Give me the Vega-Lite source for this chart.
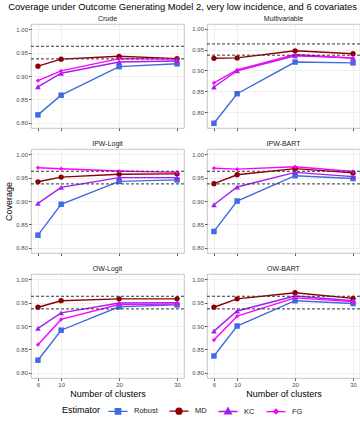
{
  "$schema": "https://vega.github.io/schema/vega-lite/v6.json",
  "padding": {"left": 4, "top": 2, "right": 3, "bottom": 2},
  "title": {"text": "Coverage under Outcome Generating Model 2, very low incidence, and 6 covariates", "fontSize": 9.4, "fontWeight": "normal", "color": "black", "anchor": "middle", "offset": 2},
  "datasets": {
    "cov": [
      {"panel":"Crude","estimator":"Robust","clusters":6,"coverage":0.817},{"panel":"Crude","estimator":"Robust","clusters":10,"coverage":0.859},{"panel":"Crude","estimator":"Robust","clusters":20,"coverage":0.920},{"panel":"Crude","estimator":"Robust","clusters":30,"coverage":0.926},
      {"panel":"Crude","estimator":"MD","clusters":6,"coverage":0.921},{"panel":"Crude","estimator":"MD","clusters":10,"coverage":0.936},{"panel":"Crude","estimator":"MD","clusters":20,"coverage":0.942},{"panel":"Crude","estimator":"MD","clusters":30,"coverage":0.937},
      {"panel":"Crude","estimator":"KC","clusters":6,"coverage":0.877},{"panel":"Crude","estimator":"KC","clusters":10,"coverage":0.906},{"panel":"Crude","estimator":"KC","clusters":20,"coverage":0.930},{"panel":"Crude","estimator":"KC","clusters":30,"coverage":0.932},
      {"panel":"Crude","estimator":"FG","clusters":6,"coverage":0.890},{"panel":"Crude","estimator":"FG","clusters":10,"coverage":0.911},{"panel":"Crude","estimator":"FG","clusters":20,"coverage":0.937},{"panel":"Crude","estimator":"FG","clusters":30,"coverage":0.936},
      {"panel":"Multivariable","estimator":"Robust","clusters":6,"coverage":0.773},{"panel":"Multivariable","estimator":"Robust","clusters":10,"coverage":0.844},{"panel":"Multivariable","estimator":"Robust","clusters":20,"coverage":0.920},{"panel":"Multivariable","estimator":"Robust","clusters":30,"coverage":0.918},
      {"panel":"Multivariable","estimator":"MD","clusters":6,"coverage":0.929},{"panel":"Multivariable","estimator":"MD","clusters":10,"coverage":0.930},{"panel":"Multivariable","estimator":"MD","clusters":20,"coverage":0.947},{"panel":"Multivariable","estimator":"MD","clusters":30,"coverage":0.940},
      {"panel":"Multivariable","estimator":"KC","clusters":6,"coverage":0.860},{"panel":"Multivariable","estimator":"KC","clusters":10,"coverage":0.899},{"panel":"Multivariable","estimator":"KC","clusters":20,"coverage":0.935},{"panel":"Multivariable","estimator":"KC","clusters":30,"coverage":0.930},
      {"panel":"Multivariable","estimator":"FG","clusters":6,"coverage":0.870},{"panel":"Multivariable","estimator":"FG","clusters":10,"coverage":0.901},{"panel":"Multivariable","estimator":"FG","clusters":20,"coverage":0.938},{"panel":"Multivariable","estimator":"FG","clusters":30,"coverage":0.929},
      {"panel":"IPW-Logit","estimator":"Robust","clusters":6,"coverage":0.827},{"panel":"IPW-Logit","estimator":"Robust","clusters":10,"coverage":0.893},{"panel":"IPW-Logit","estimator":"Robust","clusters":20,"coverage":0.942},{"panel":"IPW-Logit","estimator":"Robust","clusters":30,"coverage":0.945},
      {"panel":"IPW-Logit","estimator":"MD","clusters":6,"coverage":0.941},{"panel":"IPW-Logit","estimator":"MD","clusters":10,"coverage":0.951},{"panel":"IPW-Logit","estimator":"MD","clusters":20,"coverage":0.957},{"panel":"IPW-Logit","estimator":"MD","clusters":30,"coverage":0.958},
      {"panel":"IPW-Logit","estimator":"KC","clusters":6,"coverage":0.895},{"panel":"IPW-Logit","estimator":"KC","clusters":10,"coverage":0.929},{"panel":"IPW-Logit","estimator":"KC","clusters":20,"coverage":0.950},{"panel":"IPW-Logit","estimator":"KC","clusters":30,"coverage":0.950},
      {"panel":"IPW-Logit","estimator":"FG","clusters":6,"coverage":0.971},{"panel":"IPW-Logit","estimator":"FG","clusters":10,"coverage":0.969},{"panel":"IPW-Logit","estimator":"FG","clusters":20,"coverage":0.964},{"panel":"IPW-Logit","estimator":"FG","clusters":30,"coverage":0.961},
      {"panel":"IPW-BART","estimator":"Robust","clusters":6,"coverage":0.835},{"panel":"IPW-BART","estimator":"Robust","clusters":10,"coverage":0.900},{"panel":"IPW-BART","estimator":"Robust","clusters":20,"coverage":0.954},{"panel":"IPW-BART","estimator":"Robust","clusters":30,"coverage":0.948},
      {"panel":"IPW-BART","estimator":"MD","clusters":6,"coverage":0.937},{"panel":"IPW-BART","estimator":"MD","clusters":10,"coverage":0.956},{"panel":"IPW-BART","estimator":"MD","clusters":20,"coverage":0.969},{"panel":"IPW-BART","estimator":"MD","clusters":30,"coverage":0.960},
      {"panel":"IPW-BART","estimator":"KC","clusters":6,"coverage":0.892},{"panel":"IPW-BART","estimator":"KC","clusters":10,"coverage":0.930},{"panel":"IPW-BART","estimator":"KC","clusters":20,"coverage":0.961},{"panel":"IPW-BART","estimator":"KC","clusters":30,"coverage":0.952},
      {"panel":"IPW-BART","estimator":"FG","clusters":6,"coverage":0.970},{"panel":"IPW-BART","estimator":"FG","clusters":10,"coverage":0.968},{"panel":"IPW-BART","estimator":"FG","clusters":20,"coverage":0.973},{"panel":"IPW-BART","estimator":"FG","clusters":30,"coverage":0.963},
      {"panel":"OW-Logit","estimator":"Robust","clusters":6,"coverage":0.827},{"panel":"OW-Logit","estimator":"Robust","clusters":10,"coverage":0.891},{"panel":"OW-Logit","estimator":"Robust","clusters":20,"coverage":0.941},{"panel":"OW-Logit","estimator":"Robust","clusters":30,"coverage":0.945},
      {"panel":"OW-Logit","estimator":"MD","clusters":6,"coverage":0.940},{"panel":"OW-Logit","estimator":"MD","clusters":10,"coverage":0.954},{"panel":"OW-Logit","estimator":"MD","clusters":20,"coverage":0.958},{"panel":"OW-Logit","estimator":"MD","clusters":30,"coverage":0.958},
      {"panel":"OW-Logit","estimator":"KC","clusters":6,"coverage":0.895},{"panel":"OW-Logit","estimator":"KC","clusters":10,"coverage":0.928},{"panel":"OW-Logit","estimator":"KC","clusters":20,"coverage":0.949},{"panel":"OW-Logit","estimator":"KC","clusters":30,"coverage":0.950},
      {"panel":"OW-Logit","estimator":"FG","clusters":6,"coverage":0.860},{"panel":"OW-Logit","estimator":"FG","clusters":10,"coverage":0.914},{"panel":"OW-Logit","estimator":"FG","clusters":20,"coverage":0.946},{"panel":"OW-Logit","estimator":"FG","clusters":30,"coverage":0.947},
      {"panel":"OW-BART","estimator":"Robust","clusters":6,"coverage":0.836},{"panel":"OW-BART","estimator":"Robust","clusters":10,"coverage":0.900},{"panel":"OW-BART","estimator":"Robust","clusters":20,"coverage":0.954},{"panel":"OW-BART","estimator":"Robust","clusters":30,"coverage":0.948},
      {"panel":"OW-BART","estimator":"MD","clusters":6,"coverage":0.940},{"panel":"OW-BART","estimator":"MD","clusters":10,"coverage":0.958},{"panel":"OW-BART","estimator":"MD","clusters":20,"coverage":0.971},{"panel":"OW-BART","estimator":"MD","clusters":30,"coverage":0.959},
      {"panel":"OW-BART","estimator":"KC","clusters":6,"coverage":0.889},{"panel":"OW-BART","estimator":"KC","clusters":10,"coverage":0.932},{"panel":"OW-BART","estimator":"KC","clusters":20,"coverage":0.964},{"panel":"OW-BART","estimator":"KC","clusters":30,"coverage":0.954},
      {"panel":"OW-BART","estimator":"FG","clusters":6,"coverage":0.870},{"panel":"OW-BART","estimator":"FG","clusters":10,"coverage":0.921},{"panel":"OW-BART","estimator":"FG","clusters":20,"coverage":0.960},{"panel":"OW-BART","estimator":"FG","clusters":30,"coverage":0.952}
    ]
  },
  "data": {"name": "cov"},
  "columns": 2,
  "spacing": {"row": 7, "column": 6},
  "concat": [
    {
      "title": "Crude", "width": 153, "height": 104,
      "transform": [{"filter": "datum.panel === 'Crude'"}],
      "layer": [
        {"mark": {"type": "line", "strokeWidth": 1.4},
         "encoding": {
           "x": {"field": "clusters", "type": "quantitative", "scale": {"domain": [4.8, 31.2], "nice": false, "zero": false}, "axis": {"values": [6, 10, 20, 30], "labels": false, "title": null}},
           "y": {"field": "coverage", "type": "quantitative", "scale": {"domain": [0.789, 1.011], "nice": false, "zero": false}, "axis": {"values": [0.8, 0.85, 0.9, 0.95, 1.0], "format": ".2f", "title": null}},
           "color": {"field": "estimator", "type": "nominal", "scale": {"domain": ["Robust", "MD", "KC", "FG"], "range": ["#4169E1", "#8B0000", "#A020F0", "#FF00FF"]},
             "legend": {"title": "Estimator", "encode": {"symbols": {"update": {
               "shape": {"signal": "datum.value === 'Robust' ? 'M-1.6,0H1.6M-0.45,-0.45H0.45V0.45H-0.45Z' : datum.value === 'MD' ? 'M-1.6,0H1.6M0.5,0A0.5,0.5,0,1,1,-0.5,0A0.5,0.5,0,1,1,0.5,0Z' : datum.value === 'KC' ? 'M-1.6,0H1.6M0,-0.6L0.55,0.4H-0.55Z' : 'M-1.6,0H1.6M0,-0.38L0.38,0L0,0.38L-0.38,0Z'"},
               "size": {"value": 144},
               "fill": {"scale": "color", "field": "value"},
               "stroke": {"scale": "color", "field": "value"},
               "strokeWidth": {"value": 1.3},
               "opacity": {"value": 1}}}}}}
         }},
        {"mark": {"type": "point", "filled": true, "opacity": 1,
           "shape": {"expr": "datum.estimator === 'Robust' ? 'square' : datum.estimator === 'MD' ? 'circle' : datum.estimator === 'KC' ? 'triangle-up' : 'diamond'"},
           "size": {"expr": "datum.estimator === 'Robust' ? 30 : datum.estimator === 'MD' ? 28 : datum.estimator === 'KC' ? 32 : 18"}},
         "encoding": {
           "x": {"field": "clusters", "type": "quantitative", "axis": {"orient": "bottom", "values": [8, 15, 25], "labels": false, "ticks": false, "title": null, "gridColor": "#f4f4f4", "gridWidth": 0.6}},
           "y": {"field": "coverage", "type": "quantitative", "axis": {"orient": "left", "values": [0.825, 0.875, 0.925, 0.975], "labels": false, "ticks": false, "title": null, "gridColor": "#f4f4f4", "gridWidth": 0.6}},
           "color": {"field": "estimator", "type": "nominal"}
         }},
        {"data": {"values": [{"bound": 0.9365}, {"bound": 0.9635}]},
         "mark": {"type": "rule", "strokeDash": [3, 2], "color": "#333333", "strokeWidth": 1},
         "encoding": {"y": {"field": "bound", "type": "quantitative", "axis": null}}}
      ],
      "resolve": {"axis": {"x": "independent", "y": "independent"}}
    },
    {
      "title": "Multivariable", "width": 153, "height": 104,
      "transform": [{"filter": "datum.panel === 'Multivariable'"}],
      "layer": [
        {"mark": {"type": "line", "strokeWidth": 1.4},
         "encoding": {
           "x": {"field": "clusters", "type": "quantitative", "scale": {"domain": [4.8, 31.2], "nice": false, "zero": false}, "axis": {"values": [6, 10, 20, 30], "labels": false, "title": null}},
           "y": {"field": "coverage", "type": "quantitative", "scale": {"domain": [0.7617, 1.0113], "nice": false, "zero": false}, "axis": {"values": [0.8, 0.85, 0.9, 0.95, 1.0], "format": ".2f", "title": null}},
           "color": {"field": "estimator", "type": "nominal"}
         }},
        {"mark": {"type": "point", "filled": true, "opacity": 1,
           "shape": {"expr": "datum.estimator === 'Robust' ? 'square' : datum.estimator === 'MD' ? 'circle' : datum.estimator === 'KC' ? 'triangle-up' : 'diamond'"},
           "size": {"expr": "datum.estimator === 'Robust' ? 30 : datum.estimator === 'MD' ? 28 : datum.estimator === 'KC' ? 32 : 18"}},
         "encoding": {
           "x": {"field": "clusters", "type": "quantitative", "axis": {"orient": "bottom", "values": [8, 15, 25], "labels": false, "ticks": false, "title": null, "gridColor": "#f4f4f4", "gridWidth": 0.6}},
           "y": {"field": "coverage", "type": "quantitative", "axis": {"orient": "left", "values": [0.775, 0.825, 0.875, 0.925, 0.975], "labels": false, "ticks": false, "title": null, "gridColor": "#f4f4f4", "gridWidth": 0.6}},
           "color": {"field": "estimator", "type": "nominal"}
         }},
        {"data": {"values": [{"bound": 0.9365}, {"bound": 0.9635}]},
         "mark": {"type": "rule", "strokeDash": [3, 2], "color": "#333333", "strokeWidth": 1},
         "encoding": {"y": {"field": "bound", "type": "quantitative", "axis": null}}}
      ],
      "resolve": {"axis": {"x": "independent", "y": "independent"}}
    },
    {
      "title": "IPW-Logit", "width": 153, "height": 104,
      "transform": [{"filter": "datum.panel === 'IPW-Logit'"}],
      "layer": [
        {"mark": {"type": "line", "strokeWidth": 1.4},
         "encoding": {
           "x": {"field": "clusters", "type": "quantitative", "scale": {"domain": [4.8, 31.2], "nice": false, "zero": false}, "axis": {"values": [6, 10, 20, 30], "labels": false, "title": null}},
           "y": {"field": "coverage", "type": "quantitative", "scale": {"domain": [0.789, 1.011], "nice": false, "zero": false}, "axis": {"values": [0.8, 0.85, 0.9, 0.95, 1.0], "format": ".2f", "title": "Coverage"}},
           "color": {"field": "estimator", "type": "nominal"}
         }},
        {"mark": {"type": "point", "filled": true, "opacity": 1,
           "shape": {"expr": "datum.estimator === 'Robust' ? 'square' : datum.estimator === 'MD' ? 'circle' : datum.estimator === 'KC' ? 'triangle-up' : 'diamond'"},
           "size": {"expr": "datum.estimator === 'Robust' ? 30 : datum.estimator === 'MD' ? 28 : datum.estimator === 'KC' ? 32 : 18"}},
         "encoding": {
           "x": {"field": "clusters", "type": "quantitative", "axis": {"orient": "bottom", "values": [8, 15, 25], "labels": false, "ticks": false, "title": null, "gridColor": "#f4f4f4", "gridWidth": 0.6}},
           "y": {"field": "coverage", "type": "quantitative", "axis": {"orient": "left", "values": [0.825, 0.875, 0.925, 0.975], "labels": false, "ticks": false, "title": null, "gridColor": "#f4f4f4", "gridWidth": 0.6}},
           "color": {"field": "estimator", "type": "nominal"}
         }},
        {"data": {"values": [{"bound": 0.9365}, {"bound": 0.9635}]},
         "mark": {"type": "rule", "strokeDash": [3, 2], "color": "#333333", "strokeWidth": 1},
         "encoding": {"y": {"field": "bound", "type": "quantitative", "axis": null}}}
      ],
      "resolve": {"axis": {"x": "independent", "y": "independent"}}
    },
    {
      "title": "IPW-BART", "width": 153, "height": 104,
      "transform": [{"filter": "datum.panel === 'IPW-BART'"}],
      "layer": [
        {"mark": {"type": "line", "strokeWidth": 1.4},
         "encoding": {
           "x": {"field": "clusters", "type": "quantitative", "scale": {"domain": [4.8, 31.2], "nice": false, "zero": false}, "axis": {"values": [6, 10, 20, 30], "labels": false, "title": null}},
           "y": {"field": "coverage", "type": "quantitative", "scale": {"domain": [0.789, 1.011], "nice": false, "zero": false}, "axis": {"values": [0.8, 0.85, 0.9, 0.95, 1.0], "format": ".2f", "title": null}},
           "color": {"field": "estimator", "type": "nominal"}
         }},
        {"mark": {"type": "point", "filled": true, "opacity": 1,
           "shape": {"expr": "datum.estimator === 'Robust' ? 'square' : datum.estimator === 'MD' ? 'circle' : datum.estimator === 'KC' ? 'triangle-up' : 'diamond'"},
           "size": {"expr": "datum.estimator === 'Robust' ? 30 : datum.estimator === 'MD' ? 28 : datum.estimator === 'KC' ? 32 : 18"}},
         "encoding": {
           "x": {"field": "clusters", "type": "quantitative", "axis": {"orient": "bottom", "values": [8, 15, 25], "labels": false, "ticks": false, "title": null, "gridColor": "#f4f4f4", "gridWidth": 0.6}},
           "y": {"field": "coverage", "type": "quantitative", "axis": {"orient": "left", "values": [0.825, 0.875, 0.925, 0.975], "labels": false, "ticks": false, "title": null, "gridColor": "#f4f4f4", "gridWidth": 0.6}},
           "color": {"field": "estimator", "type": "nominal"}
         }},
        {"data": {"values": [{"bound": 0.9365}, {"bound": 0.9635}]},
         "mark": {"type": "rule", "strokeDash": [3, 2], "color": "#333333", "strokeWidth": 1},
         "encoding": {"y": {"field": "bound", "type": "quantitative", "axis": null}}}
      ],
      "resolve": {"axis": {"x": "independent", "y": "independent"}}
    },
    {
      "title": "OW-Logit", "width": 153, "height": 104,
      "transform": [{"filter": "datum.panel === 'OW-Logit'"}],
      "layer": [
        {"mark": {"type": "line", "strokeWidth": 1.4},
         "encoding": {
           "x": {"field": "clusters", "type": "quantitative", "scale": {"domain": [4.8, 31.2], "nice": false, "zero": false}, "axis": {"values": [6, 10, 20, 30], "title": "Number of clusters"}},
           "y": {"field": "coverage", "type": "quantitative", "scale": {"domain": [0.789, 1.011], "nice": false, "zero": false}, "axis": {"values": [0.8, 0.85, 0.9, 0.95, 1.0], "format": ".2f", "title": null}},
           "color": {"field": "estimator", "type": "nominal"}
         }},
        {"mark": {"type": "point", "filled": true, "opacity": 1,
           "shape": {"expr": "datum.estimator === 'Robust' ? 'square' : datum.estimator === 'MD' ? 'circle' : datum.estimator === 'KC' ? 'triangle-up' : 'diamond'"},
           "size": {"expr": "datum.estimator === 'Robust' ? 30 : datum.estimator === 'MD' ? 28 : datum.estimator === 'KC' ? 32 : 18"}},
         "encoding": {
           "x": {"field": "clusters", "type": "quantitative", "axis": {"orient": "bottom", "values": [8, 15, 25], "labels": false, "ticks": false, "title": null, "gridColor": "#f4f4f4", "gridWidth": 0.6}},
           "y": {"field": "coverage", "type": "quantitative", "axis": {"orient": "left", "values": [0.825, 0.875, 0.925, 0.975], "labels": false, "ticks": false, "title": null, "gridColor": "#f4f4f4", "gridWidth": 0.6}},
           "color": {"field": "estimator", "type": "nominal"}
         }},
        {"data": {"values": [{"bound": 0.9365}, {"bound": 0.9635}]},
         "mark": {"type": "rule", "strokeDash": [3, 2], "color": "#333333", "strokeWidth": 1},
         "encoding": {"y": {"field": "bound", "type": "quantitative", "axis": null}}}
      ],
      "resolve": {"axis": {"x": "independent", "y": "independent"}}
    },
    {
      "title": "OW-BART", "width": 153, "height": 104,
      "transform": [{"filter": "datum.panel === 'OW-BART'"}],
      "layer": [
        {"mark": {"type": "line", "strokeWidth": 1.4},
         "encoding": {
           "x": {"field": "clusters", "type": "quantitative", "scale": {"domain": [4.8, 31.2], "nice": false, "zero": false}, "axis": {"values": [6, 10, 20, 30], "title": "Number of clusters"}},
           "y": {"field": "coverage", "type": "quantitative", "scale": {"domain": [0.789, 1.011], "nice": false, "zero": false}, "axis": {"values": [0.8, 0.85, 0.9, 0.95, 1.0], "format": ".2f", "title": null}},
           "color": {"field": "estimator", "type": "nominal"}
         }},
        {"mark": {"type": "point", "filled": true, "opacity": 1,
           "shape": {"expr": "datum.estimator === 'Robust' ? 'square' : datum.estimator === 'MD' ? 'circle' : datum.estimator === 'KC' ? 'triangle-up' : 'diamond'"},
           "size": {"expr": "datum.estimator === 'Robust' ? 30 : datum.estimator === 'MD' ? 28 : datum.estimator === 'KC' ? 32 : 18"}},
         "encoding": {
           "x": {"field": "clusters", "type": "quantitative", "axis": {"orient": "bottom", "values": [8, 15, 25], "labels": false, "ticks": false, "title": null, "gridColor": "#f4f4f4", "gridWidth": 0.6}},
           "y": {"field": "coverage", "type": "quantitative", "axis": {"orient": "left", "values": [0.825, 0.875, 0.925, 0.975], "labels": false, "ticks": false, "title": null, "gridColor": "#f4f4f4", "gridWidth": 0.6}},
           "color": {"field": "estimator", "type": "nominal"}
         }},
        {"data": {"values": [{"bound": 0.9365}, {"bound": 0.9635}]},
         "mark": {"type": "rule", "strokeDash": [3, 2], "color": "#333333", "strokeWidth": 1},
         "encoding": {"y": {"field": "bound", "type": "quantitative", "axis": null}}}
      ],
      "resolve": {"axis": {"x": "independent", "y": "independent"}}
    }
  ],
  "config": {
    "font": "Liberation Sans",
    "view": {"stroke": "#b5b5b5", "strokeWidth": 0.8},
    "title": {"fontSize": 7, "fontWeight": "normal", "color": "#1a1a1a", "offset": 2},
    "axis": {"labelFontSize": 6, "labelColor": "#4d4d4d", "tickColor": "#333333", "tickSize": 2.5, "tickWidth": 0.8, "domain": false, "gridColor": "#ebebeb", "gridWidth": 0.8, "labelPadding": 1, "titleFontWeight": "normal", "titleColor": "black", "titleFontSize": 9, "titlePadding": 2},
    "legend": {"orient": "bottom", "direction": "horizontal", "titleOrient": "left", "titleFontSize": 9, "titleFontWeight": "normal", "titleColor": "black", "labelFontSize": 7.5, "labelColor": "#1a1a1a", "symbolSize": 144, "columnPadding": 8, "titlePadding": 10, "labelOffset": 9, "offset": 5, "layout": {"bottom": {"anchor": "middle"}}}
  }
}
